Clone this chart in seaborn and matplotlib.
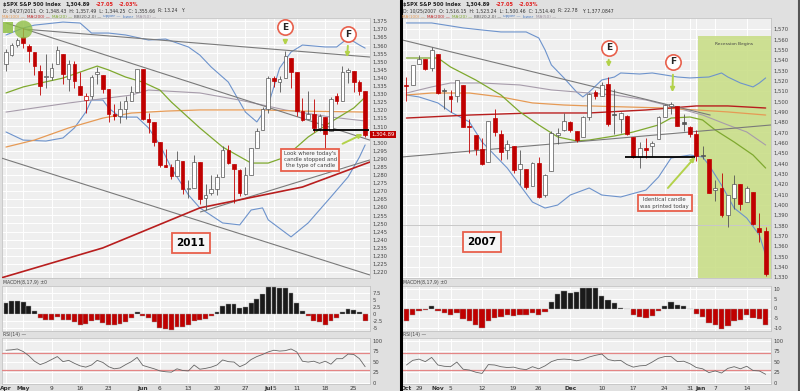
import numpy as np
import matplotlib.pyplot as plt
import matplotlib.transforms as mtransforms
from matplotlib.patches import Rectangle
from matplotlib.lines import Line2D
import seaborn as sns

# ---------------- 2011 panel: $SPX daily, Apr 27 - Jul 27 2011 ----------------
open_11 = [1348.4, 1353.9, 1360.1, 1365.2, 1359.8, 1355.9, 1344.2, 1340.2, 1340.2, 1348.3,
           1354.5, 1339.4, 1348.7, 1334.8, 1326.1, 1328.5, 1342.4, 1342.0, 1333.1, 1317.7,
           1316.4, 1320.6, 1325.7, 1331.1, 1345.2, 1314.6, 1312.9, 1300.3, 1286.3, 1284.6,
           1279.6, 1288.6, 1271.3, 1272.2, 1287.9, 1265.5, 1268.6, 1271.5, 1278.4, 1295.5,
           1286.6, 1283.0, 1268.4, 1280.2, 1296.9, 1307.6, 1320.6, 1339.6, 1337.6, 1339.6,
           1352.4, 1343.3, 1319.6, 1314.5, 1317.7, 1308.9, 1315.9, 1307.1, 1328.7, 1325.7,
           1343.8, 1344.3, 1337.4, 1331.9]
high_11 = [1357.5, 1361.7, 1364.6, 1370.6, 1360.8, 1355.9, 1348.0, 1354.4, 1349.4, 1359.4,
           1354.5, 1351.1, 1350.5, 1343.3, 1330.4, 1341.8, 1346.8, 1342.0, 1333.1, 1323.7,
           1325.9, 1328.5, 1334.6, 1345.2, 1345.2, 1318.0, 1312.9, 1300.3, 1296.2, 1287.0,
           1294.5, 1288.6, 1277.0, 1292.5, 1287.9, 1274.1, 1279.8, 1280.4, 1297.6, 1298.6,
           1286.6, 1283.9, 1284.9, 1296.8, 1309.2, 1322.0, 1341.0, 1340.9, 1340.9, 1356.5,
           1352.4, 1343.3, 1327.2, 1331.5, 1326.9, 1317.7, 1315.9, 1328.1, 1330.4, 1347.0,
           1346.1, 1344.3, 1338.5, 1331.9]
low_11 = [1344.3, 1353.6, 1358.7, 1358.6, 1349.5, 1341.5, 1329.2, 1333.6, 1338.6, 1348.3,
          1336.4, 1332.0, 1333.4, 1329.1, 1318.5, 1326.6, 1336.4, 1330.7, 1312.9, 1313.9,
          1311.8, 1314.4, 1325.7, 1331.1, 1313.7, 1305.6, 1297.9, 1284.9, 1284.7, 1277.4,
          1279.6, 1268.3, 1265.6, 1272.2, 1261.9, 1258.1, 1267.4, 1267.6, 1278.4, 1286.8,
          1262.9, 1267.2, 1267.5, 1280.2, 1296.9, 1307.6, 1318.2, 1334.3, 1330.9, 1339.6,
          1333.7, 1316.4, 1313.3, 1314.5, 1306.5, 1307.4, 1295.9, 1307.1, 1323.7, 1325.7,
          1337.0, 1331.1, 1329.1, 1303.5]
close_11 = [1355.7, 1360.5, 1363.6, 1361.2, 1356.6, 1347.3, 1335.1, 1340.2, 1346.3, 1357.2,
            1342.1, 1348.7, 1337.8, 1329.5, 1329.0, 1340.7, 1343.6, 1333.3, 1317.4, 1316.3,
            1320.5, 1325.7, 1331.1, 1345.2, 1314.6, 1312.9, 1300.2, 1286.2, 1284.9, 1279.6,
            1289.0, 1271.0, 1271.8, 1287.9, 1265.4, 1267.6, 1271.5, 1278.4, 1295.5, 1287.1,
            1283.5, 1268.5, 1280.1, 1296.7, 1307.4, 1320.6, 1339.7, 1337.9, 1339.2, 1353.2,
            1343.8, 1319.5, 1313.6, 1317.7, 1308.9, 1316.1, 1305.4, 1326.7, 1325.8, 1343.8,
            1345.0, 1337.4, 1331.9, 1304.9]
macd_11 = [3.9, 4.8, 4.8, 4.2, 3.0, 1.0, -1.4, -2.3, -2.3, -1.2,
           -2.0, -2.0, -3.0, -3.8, -3.6, -2.6, -2.3, -3.2, -3.8, -3.8,
           -3.5, -2.9, -1.4, 0.8, -0.8, -1.4, -3.0, -5.0, -5.4, -5.6,
           -4.8, -4.6, -3.8, -2.6, -2.0, -1.8, -0.8, 0.7, 3.0, 3.6,
           3.6, 2.1, 2.4, 3.9, 5.5, 7.3, 9.6, 9.9, 9.5, 9.3,
           7.7, 3.9, 1.0, -0.8, -2.6, -2.9, -3.8, -2.6, -1.4, 0.7,
           1.8, 1.5, 0.6, -2.4]
rsi_11 = [77, 78, 80, 74, 64, 51, 43, 48, 55, 62,
          50, 53, 46, 40, 37, 42, 53, 48, 38, 33,
          35, 43, 50, 60, 41, 37, 33, 28, 26, 25,
          33, 29, 28, 42, 32, 34, 37, 42, 54, 50,
          49, 38, 44, 55, 62, 67, 73, 77, 75, 76,
          80, 73, 51, 49, 51, 46, 51, 44, 57, 57,
          68, 67, 57, 38]
ticks_11 = [0, 3, 8, 13, 18, 24, 27, 32, 37, 42, 46, 47, 51, 56, 61]
labels_11 = ['Apr', 'May', '9', '16', '23', 'Jun', '6', '13', '20', '27', 'Jul', '5', '11', '18', '25']

# overlays: (day index, price)
ma20_11_x = [0, 3, 6, 10, 13, 16, 18, 21, 24, 27, 29, 34, 38, 43, 46, 49, 53, 57, 61, 63]
ma20_11_y = [1330.6, 1334.3, 1336.7, 1339.8, 1343.5, 1347.2, 1344.8, 1340.4, 1337.3, 1332.4,
             1325.0, 1309.0, 1297.2, 1287.3, 1287.3, 1291.0, 1303.4, 1312.7, 1321.3, 1328.0]
bbup_11_x = [0, 3, 5, 10, 13, 15, 18, 21, 25, 28, 32, 34, 36, 39, 42, 44, 46, 48, 50, 52,
             56, 58, 60, 62, 63]
bbup_11_y = [1366.4, 1370.7, 1372.5, 1374.4, 1373.8, 1367.6, 1367.6, 1366.4, 1363.3, 1363.9,
             1359.0, 1354.0, 1346.6, 1337.3, 1318.8, 1312.7, 1323.1, 1346.0, 1355.9, 1360.2,
             1359.0, 1359.0, 1364.5, 1360.2, 1358.3]
bblo_11_x = [0, 3, 7, 10, 12, 14, 15, 17, 18, 20, 23, 25, 27, 29, 32, 34, 38, 41, 43, 45,
             46, 50, 53, 57, 60, 62, 63]
bblo_11_y = [1306.5, 1301.5, 1300.9, 1302.8, 1309.0, 1318.8, 1326.2, 1326.2, 1321.3, 1315.7,
             1315.7, 1309.0, 1298.5, 1284.3, 1267.6, 1259.6, 1250.3, 1249.1, 1258.3, 1259.6,
             1252.2, 1241.7, 1250.3, 1266.4, 1278.7, 1291.0, 1298.5]
ma50_11_x = [0, 11, 22, 25, 34, 41, 49, 57, 63]
ma50_11_y = [1318.8, 1324.4, 1329.3, 1332.4, 1330.6, 1326.2, 1320.1, 1315.7, 1313.3]
ma100_11_x = [0, 5, 11, 17, 22, 28, 34, 45, 52, 63]
ma100_11_y = [1297.2, 1301.5, 1309.0, 1315.1, 1318.2, 1319.4, 1320.1, 1320.1, 1319.4, 1318.8]
ma200_11_x = [-0.8, 17, 34, 52, 63.8]
ma200_11_y = [1216.4, 1234.9, 1259.6, 1272.5, 1287.9]
trend_11 = [((3.0, 1370.1), (63.8, 1352.8)),
            ((0.0, 1373.8), (63.8, 1301.5)),
            ((-0.8, 1290.4), (63.8, 1218.2)),
            ((34.1, 1257.1), (63.8, 1289.2))]
support_11 = (53.9, 63.6, 1307.5)

# ---------------- 2007 panel: $SPX daily, Oct 25 2007 - Jan 17 2008 ----------------
open_07 = [1516.2, 1516.2, 1536.0, 1540.9, 1532.2, 1545.8, 1511.1, 1505.6, 1505.3, 1515.5,
           1475.3, 1467.6, 1453.7, 1441.4, 1483.4, 1468.0, 1453.1, 1456.7, 1434.5, 1434.7,
           1417.6, 1440.7, 1409.6, 1433.0, 1467.4, 1471.8, 1479.6, 1471.3, 1465.2, 1484.6,
           1508.6, 1505.1, 1516.7, 1487.6, 1483.3, 1486.2, 1465.1, 1445.9, 1454.7, 1456.4,
           1463.2, 1484.6, 1495.1, 1495.1, 1479.8, 1475.3, 1468.0, 1447.6, 1444.0, 1414.1,
           1415.7, 1390.3, 1406.8, 1419.9, 1402.9, 1411.9, 1377.4, 1374.8]
high_07 = [1523.2, 1535.3, 1544.7, 1540.9, 1552.8, 1545.8, 1513.2, 1510.8, 1520.8, 1515.5,
           1482.5, 1467.6, 1464.9, 1481.4, 1492.1, 1472.7, 1462.2, 1456.7, 1452.6, 1434.7,
           1440.9, 1446.1, 1429.5, 1471.6, 1473.8, 1488.9, 1481.2, 1471.3, 1486.1, 1508.0,
           1510.6, 1518.3, 1523.6, 1512.0, 1489.4, 1486.7, 1465.1, 1460.2, 1464.4, 1461.5,
           1485.4, 1497.6, 1499.0, 1495.1, 1488.0, 1475.8, 1471.8, 1456.8, 1444.0, 1423.9,
           1430.3, 1409.2, 1429.1, 1419.9, 1417.9, 1411.9, 1392.0, 1377.9]
low_07 = [1500.5, 1516.2, 1536.0, 1530.1, 1529.4, 1506.7, 1492.5, 1489.9, 1499.1, 1475.0,
          1450.3, 1448.5, 1438.5, 1441.4, 1466.5, 1443.5, 1444.0, 1430.4, 1419.3, 1415.6,
          1417.6, 1406.1, 1407.4, 1433.0, 1458.4, 1470.9, 1470.1, 1460.7, 1465.2, 1482.2,
          1502.7, 1504.7, 1476.0, 1468.2, 1469.2, 1467.8, 1445.4, 1435.7, 1445.3, 1447.5,
          1463.2, 1484.6, 1488.0, 1475.9, 1471.7, 1465.1, 1442.1, 1443.7, 1411.2, 1403.5,
          1388.3, 1378.7, 1395.3, 1394.8, 1402.9, 1380.6, 1364.3, 1330.7]
close_07 = [1514.4, 1535.3, 1541.0, 1531.0, 1549.4, 1508.4, 1509.7, 1502.2, 1520.3, 1475.6,
            1474.8, 1453.7, 1439.2, 1481.1, 1470.6, 1451.2, 1458.7, 1433.3, 1439.7, 1416.8,
            1440.7, 1407.2, 1428.2, 1469.0, 1469.7, 1481.1, 1472.4, 1462.8, 1485.0, 1507.3,
            1504.7, 1516.0, 1477.7, 1486.6, 1488.4, 1468.0, 1445.9, 1455.0, 1453.0, 1460.1,
            1484.5, 1496.5, 1497.7, 1476.3, 1478.5, 1468.4, 1447.2, 1447.2, 1411.6, 1416.2,
            1390.2, 1409.1, 1420.3, 1401.0, 1416.3, 1381.0, 1373.2, 1333.3]
macd_07 = [-6.3, -3.3, -1.3, -1.0, 1.5, -1.3, -2.5, -3.5, -2.2, -5.5,
           -6.7, -8.5, -10.0, -6.3, -4.7, -4.2, -3.5, -3.8, -3.5, -3.5,
           -2.2, -3.3, -1.7, 3.3, 7.5, 9.0, 7.8, 8.7, 10.7, 10.7,
           10.8, 6.7, 4.5, 2.8, 0.3, -0.2, -3.3, -4.3, -4.7, -3.8,
           -1.3, 1.5, 3.2, 2.0, 1.2, -0.2, -2.7, -4.2, -7.5, -8.3,
           -10.5, -8.8, -6.3, -6.0, -3.3, -4.7, -5.5, -8.5]
rsi_07 = [42, 53, 56, 50, 60, 42, 39, 38, 49, 32,
          30, 25, 22, 43, 42, 38, 36, 37, 33, 31,
          38, 33, 40, 50, 55, 56, 55, 52, 55, 61,
          65, 68, 55, 52, 53, 43, 37, 40, 41, 49,
          58, 62, 62, 50, 51, 45, 36, 33, 24, 28,
          23, 34, 38, 33, 39, 29, 28, 20]
ticks_07 = [0, 2, 5, 7, 12, 17, 21, 26, 31, 36, 41, 45, 46, 49, 54]
labels_07 = ['Oct', '29', 'Nov', '5', '12', '19', '26', 'Dec', '10', '17', '24', '31', 'Jan', '7', '14']

bbup_07_x = [0, 2, 4, 6, 9, 12, 15, 17, 19, 21, 22, 23, 25, 27, 28, 29, 31, 33, 34, 37,
             39, 41, 43, 45, 48, 50, 51, 53, 55, 56, 57]
bbup_07_y = [1575.8, 1575.8, 1575.8, 1573.9, 1571.0, 1569.0, 1567.1, 1567.1, 1567.1, 1561.3,
             1549.7, 1535.2, 1522.6, 1509.0, 1504.2, 1509.0, 1520.6, 1523.5, 1527.4, 1526.4,
             1527.4, 1525.5, 1523.5, 1522.6, 1523.5, 1527.4, 1523.5, 1517.7, 1513.9, 1517.7,
             1522.6]
bblo_07_x = [0, 2, 5, 7, 10, 12, 14, 16, 18, 20, 22, 24, 26, 29, 31, 34, 38, 40, 42, 45,
             47, 48, 50, 52, 54, 56, 57]
bblo_07_y = [1506.1, 1504.2, 1498.4, 1489.7, 1480.0, 1460.6, 1448.0, 1435.4, 1418.9, 1402.5,
             1396.7, 1399.6, 1409.3, 1416.1, 1409.3, 1407.4, 1414.1, 1426.7, 1445.1, 1448.0,
             1446.1, 1438.3, 1418.9, 1396.7, 1387.0, 1370.6, 1351.2]
ma20_07_x = [0, 2, 5, 7, 11, 15, 18, 21, 24, 27, 29, 33, 36, 40, 42, 45, 47, 49, 52, 55, 57]
ma20_07_y = [1541.9, 1541.9, 1541.9, 1533.2, 1520.6, 1506.1, 1489.7, 1477.1, 1465.5, 1461.6,
             1462.5, 1466.4, 1470.3, 1477.1, 1483.8, 1484.8, 1481.9, 1472.2, 1460.6, 1448.0,
             1435.4]
ma50_07_x = [0, 4, 7, 12, 18, 23, 29, 33, 38, 43, 47, 51, 54, 57]
ma50_07_y = [1508.0, 1513.9, 1517.7, 1517.7, 1515.8, 1511.0, 1508.0, 1506.1, 1501.3, 1493.5,
             1486.7, 1477.1, 1470.3, 1457.7]
ma100_07_x = [0, 4, 10, 15, 20, 25, 29, 35, 41, 46, 51, 57]
ma100_07_y = [1506.1, 1508.0, 1508.0, 1504.2, 1498.4, 1496.4, 1495.5, 1494.5, 1493.5, 1491.6,
              1489.7, 1486.7]
ma200_07_x = [0, 10, 20, 29, 38, 46, 51, 57]
ma200_07_y = [1483.8, 1486.7, 1488.7, 1488.7, 1491.6, 1495.5, 1495.5, 1493.5]
trend_07 = [((-0.7, 1559.4), (48.2, 1486.7)),
            ((-0.7, 1446.1), (57.9, 1477.1))]
support_07 = (34.7, 45.8, 1446.5)
recession_07 = (46.2, 1563.0)

# ---------------- style ----------------
sns.set_theme(style='darkgrid', rc={
    'axes.facecolor': '#efefef', 'figure.facecolor': '#e0e0e0',
    'grid.color': 'white', 'grid.linewidth': 0.7,
    'axes.edgecolor': '#c4c4c4', 'axes.linewidth': 0.6,
})
plt.rcParams['font.family'] = ['DejaVu Sans']

RED = '#c00000'
DARK = '#555555'
ARROW = '#b3d24a'
BOXRED = '#e8604c'

fig = plt.figure(figsize=(8, 3.91), dpi=100)
renderer = fig.canvas.get_renderer()


def px_box(x0, y0, x1, y1):
    return [x0 / 800, 1 - y1 / 391, (x1 - x0) / 800, (y1 - y0) / 391]


def draw_candles(ax, o, h, l, c, width=0.62, min_h=0.6):
    prev = [o[0]] + c[:-1]
    for i in range(len(c)):
        col = RED if c[i] < prev[i] else DARK
        ax.vlines(i, l[i], h[i], color=col, lw=0.6, zorder=4)
        fc = 'white' if c[i] >= o[i] else col
        bottom = min(o[i], c[i])
        ht = max(abs(c[i] - o[i]), min_h)
        ax.add_patch(Rectangle((i - width / 2, bottom), width, ht, fc=fc, ec=col,
                               lw=0.5, zorder=5))


def line(ax, xs, ys, color, lw=0.8, z=3):
    sns.lineplot(x=xs, y=ys, ax=ax, color=color, lw=lw, zorder=z, legend=False)


def style_axis(ax, xlim, ticks, yticks, ylabels, ylim):
    ax.set_xlim(*xlim)
    ax.set_ylim(*ylim)
    ax.set_xticks(ticks)
    ax.set_yticks(yticks)
    ax.set_yticklabels(ylabels)
    ax.yaxis.tick_right()
    ax.tick_params(axis='y', labelsize=3.8, length=0, pad=2, labelcolor='#444444')
    ax.tick_params(axis='x', length=0, labelbottom=False)
    ax.set_xlabel('')
    ax.set_ylabel('')


def circle_label(ax, x, y, s):
    ax.plot([x], [y], 'o', ms=11, mfc='white', mec=BOXRED, mew=1.2, zorder=8)
    ax.text(x, y, s, ha='center', va='center', fontsize=6.5, fontweight='bold', zorder=9)


def green_arrow(ax, x0, y0, x1, y1):
    ax.annotate('', xy=(x1, y1), xytext=(x0, y0), zorder=8,
                arrowprops=dict(arrowstyle='-|>', color=ARROW, lw=1.4, mutation_scale=6))


def note_box(ax, x, y, s, size, weight='normal', color='#444444'):
    ax.text(x, y, s, ha='center', va='center', fontsize=size, fontweight=weight,
            color=color, linespacing=1.3, zorder=9,
            bbox=dict(boxstyle='square,pad=0.45', fc='#f6f6f6', ec=BOXRED, lw=1.3))


def panel(x0, x1, xlim, o, h, l, c, macd, rsi, ticks, labels, price_ticks, price_labels,
          price_ylim, macd_ticks, macd_ylim, shift_label=None):
    ax = fig.add_axes(px_box(x0, 18, x1, 278))
    axm = fig.add_axes(px_box(x0, 286, x1, 331))
    axr = fig.add_axes(px_box(x0, 338, x1, 384))
    draw_candles(ax, o, h, l, c, min_h=0.6 * (price_ylim[1] - price_ylim[0]) / 160)
    style_axis(ax, xlim, ticks, price_ticks, price_labels, price_ylim)

    idx = np.arange(len(macd))
    cols = ['#1a1a1a' if v >= 0 else RED for v in macd]
    axm.bar(idx, macd, width=0.85, color=cols, edgecolor='#9a9a9a', linewidth=0.3, zorder=3)
    style_axis(axm, xlim, ticks, macd_ticks, [f'{v:g}' for v in macd_ticks], macd_ylim)

    sns.lineplot(x=idx, y=rsi, ax=axr, color='#666666', lw=0.6, zorder=4, legend=False)
    for lev in (70, 30):
        axr.axhline(lev, color='#e48585', lw=0.9, zorder=3)
    style_axis(axr, xlim, ticks, [0, 25, 50, 75, 100], ['0', '25', '50', '75', '100'], (-3, 106))
    axr.tick_params(axis='x', labelbottom=True, labelsize=4.2, pad=1.5, labelcolor='#333333')
    axr.set_xticklabels(labels)
    for t in axr.get_xticklabels():
        if t.get_text().isalpha():
            t.set_fontweight('bold')
        if t.get_text() == shift_label:
            t.set_transform(t.get_transform() +
                            mtransforms.ScaledTranslation(4 / 100, 0, fig.dpi_scale_trans))
    return ax, axm, axr


# ---------------- left: 2011 ----------------
pt_11 = list(range(1220, 1380, 5))
pl_11 = ['' if v == 1305 else f'{v:,}' for v in pt_11]
ax1, axm1, axr1 = panel(2, 370, (-0.7, 63.85), open_11, high_11, low_11, close_11,
                        macd_11, rsi_11, ticks_11, labels_11, pt_11, pl_11, (1216.3, 1376.9),
                        [-5, -2.5, 0, 2.5, 5, 7.5], (-6.1, 10.1))
line(ax1, bbup_11_x, bbup_11_y, '#6d93cc', 0.8)
line(ax1, bblo_11_x, bblo_11_y, '#6d93cc', 0.8)
line(ax1, ma50_11_x, ma50_11_y, '#a79cab', 0.8)
line(ax1, ma100_11_x, ma100_11_y, '#e69a55', 0.9)
line(ax1, ma20_11_x, ma20_11_y, '#7fa92f', 0.9)
for (xa, ya), (xb, yb) in trend_11:
    ax1.plot([xa, xb], [ya, yb], color='#7a7a7a', lw=0.8, zorder=3)
line(ax1, ma200_11_x, ma200_11_y, '#b81e1e', 1.2)
ax1.hlines(support_11[2], support_11[0], support_11[1], color='black', lw=1.3, zorder=6)

ax1.add_patch(Rectangle((-0.5, 1367.6), 1.8, 6.8, fc='#8fbf45', ec='none', alpha=0.85, zorder=6))
ax1.plot([3], [1370.1], 'o', ms=13, mfc='#8fbf45', mec='none', alpha=0.8, zorder=6)
circle_label(ax1, 49, 1371.3, 'E')
green_arrow(ax1, 49, 1365.1, 49, 1358.3)
circle_label(ax1, 60, 1367.0, 'F')
green_arrow(ax1, 60, 1361.4, 59.8, 1350.9)
note_box(ax1, 32.4, 1238.0, '2011', 7.5, 'bold', 'black')
note_box(ax1, 53.4, 1289.4, "Look where today's\ncandle stopped and\nthe type of candle", 3.9)
green_arrow(ax1, 58.6, 1298.5, 63.0, 1305.9)
tr = mtransforms.blended_transform_factory(ax1.transAxes, ax1.transData)
ax1.text(1.004, 1304.89, '1,304.89', transform=tr, ha='left', va='center', fontsize=3.8,
         color='white', zorder=10, bbox=dict(fc=RED, ec='none', pad=0.9))

# ---------------- right: 2007 ----------------
pt_07 = list(range(1330, 1580, 10))
ax2, axm2, axr2 = panel(402, 771, (-0.7, 57.85), open_07, high_07, low_07, close_07,
                        macd_07, rsi_07, ticks_07, labels_07, pt_07,
                        [f'{v:,}' for v in pt_07], (1329.0, 1580.6),
                        [-10, -5, 0, 5, 10], (-11.6, 11.6), shift_label='Jan')
ax2.add_patch(Rectangle((recession_07[0], 1300), 20, recession_07[1] - 1300,
                        fc='#c9de88', ec='none', alpha=0.9, zorder=1))
ax2.text(52.0, 1555.5, 'Recession Begins', ha='center', va='center', fontsize=3.2,
         color='#444444', zorder=9)
ax2.axhline(1380.3, color='#c8c8c8', lw=0.7, zorder=2)
line(ax2, bbup_07_x, bbup_07_y, '#6d93cc', 0.8)
line(ax2, bblo_07_x, bblo_07_y, '#6d93cc', 0.8)
line(ax2, ma50_07_x, ma50_07_y, '#a79cab', 0.8)
line(ax2, ma100_07_x, ma100_07_y, '#e69a55', 0.9)
line(ax2, ma200_07_x, ma200_07_y, '#b81e1e', 1.0)
line(ax2, ma20_07_x, ma20_07_y, '#7fa92f', 0.9)
for (xa, ya), (xb, yb) in trend_07:
    ax2.plot([xa, xb], [ya, yb], color='#7a7a7a', lw=0.8, zorder=3)
ax2.hlines(support_07[2], support_07[0], support_07[1], color='black', lw=1.3, zorder=6)
circle_label(ax2, 32.1, 1551.6, 'E')
green_arrow(ax2, 32.1, 1542.9, 32.1, 1530.3)
circle_label(ax2, 42.3, 1538.1, 'F')
green_arrow(ax2, 42.3, 1528.4, 42.2, 1506.1)
note_box(ax2, 12.0, 1363.8, '2007', 7.5, 'bold', 'black')
note_box(ax2, 41.0, 1401.6, 'Identical candle\nwas printed today', 3.9)
green_arrow(ax2, 41.2, 1414.1, 46.1, 1448.0)


# ---------------- header text ----------------
def text_row(x, y, parts, size, gap=3):
    # lay text pieces one after another, measured in pixels
    for s, col, weight in parts:
        t = fig.text(x / 800, 1 - y / 391, s, fontsize=size, color=col, fontweight=weight,
                     ha='left', va='center')
        x += t.get_window_extent(renderer).width + gap


for off, dline, rtext, ytext in [
        (0, 'D: 04/27/2011  O: 1,348.43  H: 1,357.49  L: 1,344.25  C: 1,355.66', 'R: 13.24', 'Y:'),
        (400, 'D: 10/25/2007  O: 1,516.15  H: 1,523.24  L: 1,500.46  C: 1,514.40', 'R: 22.78',
         'Y: 1,377.0847')]:
    text_row(off + 3, 4.5, [(r'\$SPX S&P 500 Index', '#222222', 'bold'),
                            ('1,304.89', '#222222', 'bold'),
                            ('-27.05', '#e02020', 'bold'),
                            ('-2.03%', '#e02020', 'bold')], 3.6, gap=5)
    text_row(off + 3, 11, [(dline, '#333333', 'normal')], 3.3)
    text_row(off + 158, 11, [(rtext, '#333333', 'normal'), (ytext, '#333333', 'normal')],
             3.3, gap=4)
    text_row(off + 2, 16.5, [('MA(100) —', '#e69a55', 'normal'),
                             ('MA(200) —', '#c02020', 'normal'),
                             ('MA(20) —', '#7fa92f', 'normal'),
                             ('BB(20,2.0) —', '#555555', 'normal'),
                             ('upper —', '#4f7fc4', 'normal'),
                             ('lower', '#4f7fc4', 'normal'),
                             ('MA(50) —', '#9a8f9f', 'normal')], 3.0, gap=2)
    text_row(off + 3, 282.5, [('MACDH(8,17,9) ±0', '#444444', 'normal')], 3.3)
    text_row(off + 3, 334.5, [('RSI(14) —', '#444444', 'normal')], 3.3)

fig.add_artist(Line2D([400.5 / 800] * 2, [0, 1], color='black', lw=2.2,
                      transform=fig.transFigure))
fig.add_artist(Line2D([799 / 800] * 2, [0, 1], color='#555555', lw=1.5,
                      transform=fig.transFigure))

fig.savefig('out.png', dpi=100)
